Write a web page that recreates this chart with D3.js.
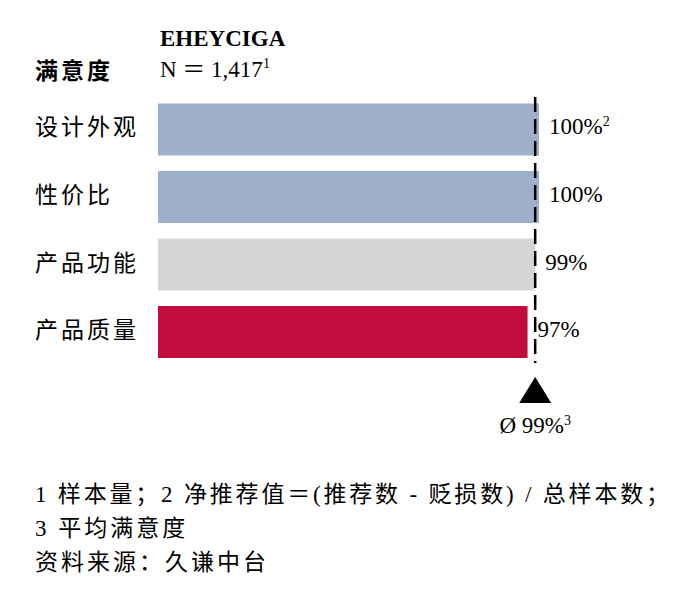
<!DOCTYPE html>
<html><head><meta charset="utf-8">
<script src="https://cdn.jsdelivr.net/npm/d3@7/dist/d3.min.js"></script>
<style>
html,body{margin:0;padding:0;background:#fff;}
svg{display:block;}
text{font-family:"Liberation Serif","Noto Sans CJK SC",serif;fill:#000;}
</style></head>
<body>
<svg id="chart" width="680" height="589"></svg>
<script>
const categories = ["设计外观","性价比","产品功能","产品质量"];
const values = [100, 100, 99, 97];
const valueLabels = ["100%","100%","99%","97%"];
const valueSups = ["2","","",""];
const colors = ["#9dafcb","#9dafcb","#d5d6d8","#c30c3e"];
const average = 99;
const averageLabel = "Ø 99%";
const averageSup = "3";
const titleLeft = "满意度";
const brand = "EHEYCIGA";
const sampleText = "N ＝ 1,417";
const sampleSup = "1";
const footnotes = ["1 样本量；2 净推荐值＝(推荐数 - 贬损数) / 总样本数；","3 平均满意度","资料来源：久谦中台"];

const svg = d3.select("#chart");
const x = d3.scaleLinear().domain([0,100]).range([158,539]);
const y = d3.scaleBand().domain(categories).range([103.5,358]).paddingInner(0.23).paddingOuter(0);

// header
svg.append("text").attr("x",35).attr("y",79).attr("font-size",23).attr("font-weight","bold")
  .attr("letter-spacing",3).text(titleLeft);
svg.append("text").attr("x",160).attr("y",46).attr("font-size",23).attr("font-weight","bold").text(brand);
const nt = svg.append("text").attr("x",160).attr("y",77).attr("font-size",23);
nt.append("tspan").text(sampleText);
nt.append("tspan").attr("font-size",14).attr("dy",-9).text(sampleSup);

// bars
svg.selectAll("rect.bar").data(categories).join("rect").attr("class","bar")
  .attr("x",x(0)).attr("y",d=>y(d))
  .attr("width",(d,i)=>x(values[i])-x(0)).attr("height",y.bandwidth())
  .attr("fill",(d,i)=>colors[i]);

// category labels
svg.selectAll("text.cat").data(categories).join("text").attr("class","cat")
  .attr("x",35).attr("y",d=>y(d)+y.bandwidth()/2+6)
  .attr("font-size",23).attr("letter-spacing",3).text(d=>d);

// value labels
const vl = svg.selectAll("text.val").data(categories).join("text").attr("class","val")
  .attr("x",(d,i)=>x(values[i])+10).attr("y",d=>y(d)+y.bandwidth()/2+5)
  .attr("font-size",23);
vl.append("tspan").text((d,i)=>valueLabels[i]);
vl.append("tspan").attr("font-size",14).attr("dy",-8).text((d,i)=>valueSups[i]);

// average dashed line
const ax = x(average);
svg.append("line").attr("x1",ax).attr("x2",ax).attr("y1",97).attr("y2",363)
  .attr("stroke","#000").attr("stroke-width",2.5).attr("stroke-dasharray","15,7");

// triangle
svg.append("path").attr("d",`M${ax},377 L${ax+16},403 L${ax-16},403 Z`).attr("fill","#000");
const at = svg.append("text").attr("x",ax).attr("y",433).attr("font-size",23).attr("text-anchor","middle");
at.append("tspan").text(averageLabel);
at.append("tspan").attr("font-size",14).attr("dy",-8).text(averageSup);

// footnotes
svg.append("text").attr("x",35).attr("y",502).attr("font-size",23)
  .attr("textLength",634).attr("lengthAdjust","spacing").text(footnotes[0]);
svg.append("text").attr("x",35).attr("y",536).attr("font-size",23).attr("letter-spacing",3).text(footnotes[1]);
svg.append("text").attr("x",35).attr("y",570).attr("font-size",23).attr("letter-spacing",3).text(footnotes[2]);
</script>
</body></html>
